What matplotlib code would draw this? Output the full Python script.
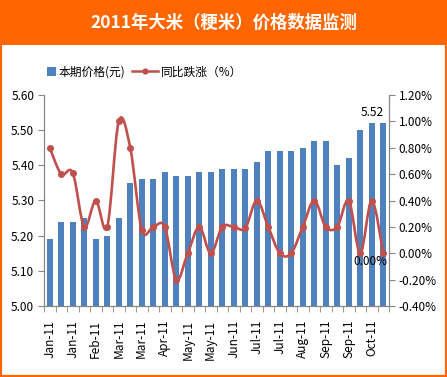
import numpy as np
import matplotlib.pyplot as plt
from matplotlib.patches import Rectangle, PathPatch
from matplotlib.path import Path
from matplotlib.lines import Line2D
from matplotlib.legend_handler import HandlerPatch
from matplotlib.ticker import FixedLocator, FuncFormatter, MultipleLocator

plt.rcParams['font.family'] = ['Noto Sans CJK SC', 'DejaVu Sans']

# 数据
tick_labels = ['Jan-11', 'Jan-11', 'Feb-11', 'Mar-11', 'Mar-11', 'Apr-11', 'May-11', 'May-11',
               'Jun-11', 'Jul-11', 'Jul-11', 'Aug-11', 'Sep-11', 'Sep-11', 'Oct-11']
price = [5.19, 5.24, 5.24, 5.25, 5.19, 5.20, 5.25, 5.35, 5.36, 5.36,
         5.38, 5.37, 5.37, 5.38, 5.38, 5.39, 5.39, 5.39, 5.41, 5.44,
         5.44, 5.44, 5.45, 5.47, 5.47, 5.40, 5.42, 5.50, 5.52, 5.52]
yoy = [0.80, 0.60, 0.61, 0.20, 0.40, 0.20, 1.00, 0.80, 0.18, 0.20,
       0.20, -0.20, 0.00, 0.20, 0.00, 0.20, 0.20, 0.19, 0.40, 0.20,
       0.00, 0.00, 0.20, 0.40, 0.20, 0.20, 0.40, 0.00, 0.40, 0.00]
legend_labels = ['本期价格(元)', '同比跌涨（%）']
title = '2011年大米（粳米）价格数据监测'

orange = '#FF6600'
blue = '#4F81BD'
red = '#C0504D'
gray = '#868686'

n = len(price)
x = np.arange(n)

fig = plt.figure(figsize=(4.47, 3.77), dpi=100)
fig.patches.append(Rectangle((0, 0), 1, 1, transform=fig.transFigure, fill=False,
                             edgecolor=orange, linewidth=3))
fig.patches.append(Rectangle((0, 1 - 45 / 377), 1, 45 / 377, transform=fig.transFigure,
                             facecolor=orange, edgecolor='none'))
fig.text(0.5, 1 - 23 / 377, title, color='white', fontsize=12.5, fontweight='bold',
         ha='center', va='center')

ax = fig.add_axes([44 / 447, 71 / 377, 345 / 447, 211 / 377])
ax.bar(x, price, width=0.55, color=blue, zorder=2)
ax.set_xlim(-0.5, n - 0.5)
ax.set_ylim(5.0, 5.6)
ax.yaxis.set_major_locator(MultipleLocator(0.1))
ax.yaxis.set_major_formatter(FuncFormatter(lambda v, p: '%.2f' % v))
ax.xaxis.set_major_locator(FixedLocator(x[::2]))
ax.set_xticklabels(tick_labels, rotation=90)
ax.xaxis.set_minor_locator(FixedLocator(np.arange(n + 1) - 0.5))
ax.tick_params(axis='x', which='major', length=0, pad=10, labelsize=8.5)
ax.tick_params(axis='x', which='minor', length=4, color=gray)
ax.tick_params(axis='y', length=4, color=gray, labelsize=8.5, pad=3)
for s in ['left', 'right', 'bottom']:
    ax.spines[s].set_color(gray)
ax.spines['top'].set_visible(False)
ax.annotate('%.2f' % price[28], (28, price[28]), xytext=(0, 3), textcoords='offset points',
            ha='center', va='bottom', fontsize=8.5)

ax2 = ax.twinx()
ax2.set_ylim(-0.4, 1.2)
ax2.yaxis.set_major_locator(MultipleLocator(0.2))
ax2.yaxis.set_major_formatter(FuncFormatter(lambda v, p: '%.2f%%' % v))
ax2.tick_params(axis='y', length=4, color=gray, labelsize=8.5, pad=3)
for s in ['left', 'right', 'bottom']:
    ax2.spines[s].set_color(gray)
ax2.spines['top'].set_visible(False)

# Excel式平滑曲线（贝塞尔）
verts = [(x[0], yoy[0])]
codes = [Path.MOVETO]
for i in range(n - 1):
    y_prev = yoy[i - 1] if i > 0 else yoy[i]
    y_next = yoy[i + 2] if i + 2 < n else yoy[i + 1]
    x_prev = x[i - 1] if i > 0 else x[i]
    x_next = x[i + 2] if i + 2 < n else x[i + 1]
    c1 = (x[i] + (x[i + 1] - x_prev) / 6, yoy[i] + (yoy[i + 1] - y_prev) / 6)
    c2 = (x[i + 1] - (x_next - x[i]) / 6, yoy[i + 1] - (y_next - yoy[i]) / 6)
    verts += [c1, c2, (x[i + 1], yoy[i + 1])]
    codes += [Path.CURVE4] * 3
ax2.add_patch(PathPatch(Path(verts, codes), fill=False, edgecolor=red, linewidth=1.9,
                        capstyle='round', joinstyle='round', zorder=3))
ax2.plot(x, yoy, linestyle='none', marker='o', markersize=4, color=red, zorder=4)
ax2.annotate('%.2f%%' % yoy[-1], (x[-1], yoy[-1]), xytext=(3, -1), textcoords='offset points',
             ha='right', va='top', fontsize=8.5)


def square_patch(legend, orig_handle, xdescent, ydescent, width, height, fontsize):
    s = height * 1.1
    return Rectangle((width - xdescent - s, -ydescent + (height - s) / 2), s, s)


handles = [Rectangle((0, 0), 1, 1, facecolor=blue),
           Line2D([], [], color=red, linewidth=1.8, marker='o', markersize=3.5)]
fig.legend(handles, legend_labels, loc='center left', bbox_to_anchor=(30 / 447, 1 - 72 / 377),
           ncol=2, frameon=False, fontsize=8.5, handlelength=2.2, handleheight=0.7,
           handletextpad=0.2, columnspacing=0.6, borderaxespad=0, borderpad=0,
           handler_map={Rectangle: HandlerPatch(patch_func=square_patch)})

fig.savefig('out.png', dpi=100)
